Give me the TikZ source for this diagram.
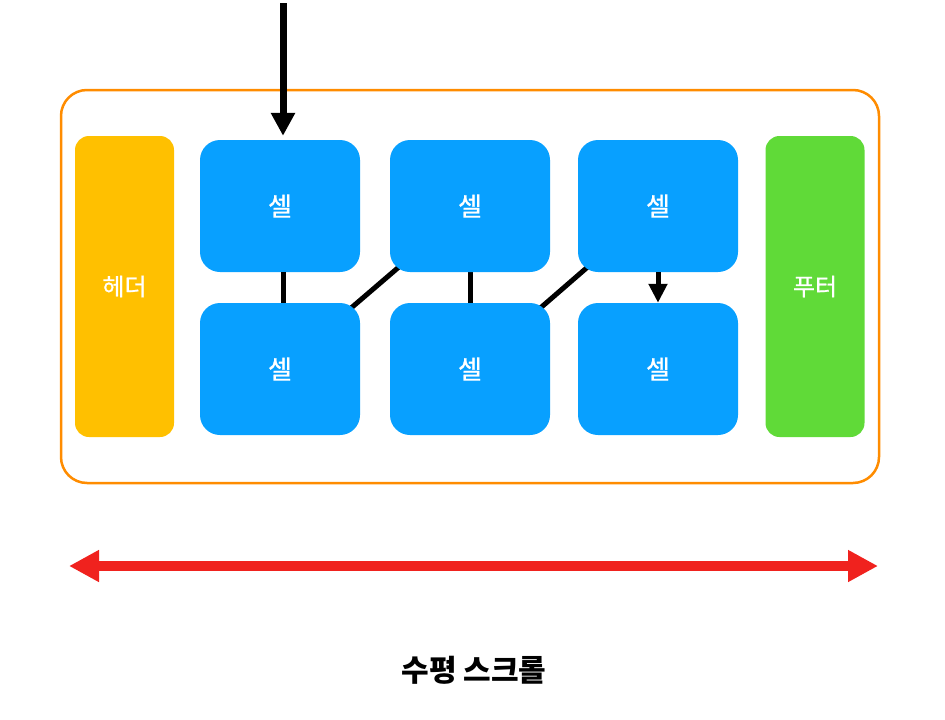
\documentclass[tikz,border=0pt]{standalone}
\usepackage{fontspec}
\setmainfont{Noto Sans CJK KR}
\newfontfamily\medfont[FakeBold=0.8]{Noto Sans CJK KR}
\usetikzlibrary{arrows.meta,backgrounds}
\definecolor{frameorange}{RGB}{255,140,0}
\definecolor{headyellow}{RGB}{255,192,0}
\definecolor{cellblue}{RGB}{8,160,255}
\definecolor{footgreen}{RGB}{96,218,56}
\definecolor{scrollred}{RGB}{240,34,30}

\tikzset{
    cell/.style={fill=cellblue, rounded corners=20pt, minimum width=160pt, minimum height=132pt,
        text=white, font=\medfont\fontsize{26}{30}\selectfont},
    side/.style={rounded corners=14pt, minimum width=99pt, minimum height=301pt,
        text=white, font=\medfont\fontsize{24}{28}\selectfont},
    link/.style={line width=5pt}
}

\begin{document}
\begin{tikzpicture}[x=1pt,y=-1pt]
        \useasboundingbox (0,0) rectangle (945,720);
        % outer frame
        \draw[frameorange, line width=2.5pt, rounded corners=26pt](61,90) rectangle (879,483);
        \node[side, fill=headyellow] (header) at (124.5,286.5) {헤더};
        \node[side, fill=footgreen] (footer) at (815,286.5) {푸터};
        % cells
        \foreach \n/\x/\y in {1/280/206,2/470/206,3/658/206,4/280/369,5/470/369,6/658/369}{
            \node[cell] (c\n) at (\x,\y) {셀};
        }
        \begin{scope}[on background layer]
            \draw[link](c4.center)--(c2.center);
            \draw[link](c2.center)--(c5.center);
            \draw[link](c5.center)--(c3.center);
        \end{scope}
        \draw[link]([xshift=3pt]c1.south)--([xshift=3pt]c4.north);
        \draw[link, -{Triangle[length=19pt,width=18pt]}](c3.south)--(c6.north);
        % entry arrow
        \coordinate (entry) at (283,3);
        \draw[line width=7pt, -{Triangle[length=23pt,width=23pt]}](entry)--([xshift=3pt,yshift=4pt]c1.north);
        % scroll arrow
        \coordinate (left) at (69,566);
        \coordinate (right) at (878,566);
        \draw[scrollred, line width=10pt, {Triangle[length=30pt,width=30pt]}-{Triangle[length=30pt,width=30pt]}](left)--(right);
        \node[font=\fontsize{30}{34}\selectfont\bfseries] (title) at (474,670) {수평 스크롤};
    \end{tikzpicture}
\end{document}
